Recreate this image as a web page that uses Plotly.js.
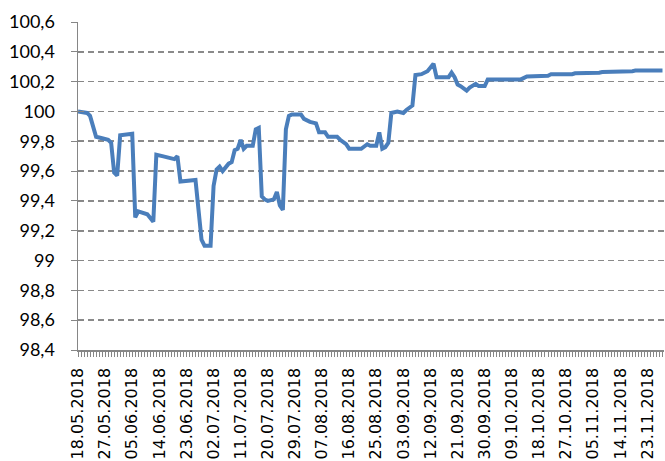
<!DOCTYPE html>
<html>
<head>
<meta charset="utf-8">
<script src="https://cdn.plot.ly/plotly-3.0.1.min.js"></script>
<style>html,body{margin:0;padding:0;background:#fff}#chart{width:665px;height:461px}</style>
</head>
<body>
<div id="chart"></div>
<script>
var dates = [
 '2018-05-18','2018-05-21','2018-05-22','2018-05-24','2018-05-26','2018-05-28','2018-05-29','2018-05-30','2018-05-31',
 '2018-06-01','2018-06-05','2018-06-06','2018-06-07','2018-06-09','2018-06-10','2018-06-12','2018-06-13','2018-06-15',
 '2018-06-18','2018-06-19','2018-06-20','2018-06-21','2018-06-26','2018-06-28','2018-06-29',
 '2018-07-01','2018-07-02','2018-07-03','2018-07-04','2018-07-05','2018-07-07','2018-07-08','2018-07-09','2018-07-10',
 '2018-07-11','2018-07-12','2018-07-13','2018-07-15','2018-07-16','2018-07-17','2018-07-18','2018-07-19','2018-07-20',
 '2018-07-22','2018-07-23','2018-07-24','2018-07-25','2018-07-26','2018-07-27','2018-07-28','2018-07-31',
 '2018-08-01','2018-08-03','2018-08-05','2018-08-06','2018-08-08','2018-08-09','2018-08-12','2018-08-13','2018-08-15',
 '2018-08-16','2018-08-20','2018-08-22','2018-08-23','2018-08-25','2018-08-26','2018-08-27','2018-08-28','2018-08-29','2018-08-30',
 '2018-09-01','2018-09-03','2018-09-04','2018-09-06','2018-09-07','2018-09-09','2018-09-11','2018-09-12','2018-09-13',
 '2018-09-14','2018-09-18','2018-09-19','2018-09-20','2018-09-21','2018-09-22','2018-09-24','2018-09-25','2018-09-27',
 '2018-09-28','2018-09-30','2018-10-01','2018-10-12','2018-10-14','2018-10-21','2018-10-22','2018-10-29','2018-10-30',
 '2018-11-07','2018-11-08','2018-11-18','2018-11-19','2018-11-28'
];
var prices = [
 100.00,99.99,99.97,99.83,99.82,99.81,99.79,99.59,99.57,
 99.84,99.85,99.29,99.33,99.32,99.31,99.26,99.71,99.70,
 99.69,99.68,99.70,99.53,99.54,99.14,99.10,
 99.10,99.50,99.61,99.63,99.60,99.65,99.66,99.74,99.75,
 99.81,99.75,99.77,99.77,99.88,99.89,99.43,99.41,99.40,
 99.41,99.46,99.37,99.34,99.88,99.97,99.98,99.98,
 99.95,99.93,99.92,99.86,99.86,99.83,99.83,99.81,99.78,
 99.75,99.75,99.78,99.77,99.77,99.86,99.75,99.76,99.79,99.99,
 100.00,99.99,100.01,100.04,100.245,100.25,100.27,100.30,100.32,
 100.23,100.23,100.26,100.23,100.18,100.17,100.14,100.16,100.185,
 100.17,100.17,100.215,100.215,100.235,100.24,100.25,100.25,100.256,
 100.26,100.265,100.27,100.274,100.274
];
var tickDates = ['2018-05-18','2018-05-27','2018-06-05','2018-06-14','2018-06-23','2018-07-02','2018-07-11','2018-07-20',
 '2018-07-29','2018-08-07','2018-08-16','2018-08-25','2018-09-03','2018-09-12','2018-09-21','2018-09-30','2018-10-09',
 '2018-10-18','2018-10-27','2018-11-05','2018-11-14','2018-11-23'];
var tickLabels = ['18.05.2018','27.05.2018','05.06.2018','14.06.2018','23.06.2018','02.07.2018','11.07.2018','20.07.2018',
 '29.07.2018','07.08.2018','16.08.2018','25.08.2018','03.09.2018','12.09.2018','21.09.2018','30.09.2018','09.10.2018',
 '18.10.2018','27.10.2018','05.11.2018','14.11.2018','23.11.2018'];
var yTickVals = [98.4,98.6,98.8,99,99.2,99.4,99.6,99.8,100,100.2,100.4,100.6];
var yTickText = ['98,4','98,6','98,8','99','99,2','99,4','99,6','99,8','100','100,2','100,4','100,6'];

var traces = [
 {x: dates, y: prices, type:'scatter', mode:'lines', line:{color:'#4a7ebb', width:4}, hoverinfo:'skip'},
 {x: [dates[0]], y: [prices[0]], yaxis:'y2', type:'scatter', mode:'lines', line:{color:'rgba(0,0,0,0)'}, hoverinfo:'skip', showlegend:false}
];
var layout = {
 width:665, height:461,
 margin:{l:78, r:1, t:22, b:111},
 paper_bgcolor:'#fff', plot_bgcolor:'#fff',
 showlegend:false,
 xaxis:{
  type:'date', range:['2018-05-18','2018-11-28 12:00'],
  tickmode:'array', tickvals:tickDates, ticktext:tickLabels,
  tickangle:-90, tickfont:{family:'DejaVu Sans', size:16, color:'#000'},
  ticks:'outside', ticklen:5, tickcolor:'#868686', tickwidth:1,
  minor:{ticks:'outside', dtick:86400000, tick0:'2018-05-18', ticklen:5, tickcolor:'#868686', tickwidth:1, showgrid:false},
  showline:true, linecolor:'#868686', linewidth:1.5,
  showgrid:false, zeroline:false, ticklabelstandoff:5
 },
 yaxis:{
  range:[98.4,100.6], tickmode:'array', tickvals:yTickVals, ticktext:yTickText,
  tickfont:{family:'Lato', size:18, color:'#000'},
  ticks:'outside', ticklen:6, tickcolor:'#868686', tickwidth:1,
  showline:true, linecolor:'#868686', linewidth:1.5,
  showgrid:true, gridcolor:'#8a8a8a', gridwidth:1.6, griddash:'6px,4px',
  zeroline:false, ticklabelstandoff:12
 },
 yaxis2:{
  overlaying:'y', side:'left', range:[98.4,100.6], tickmode:'array', tickvals:yTickVals,
  showticklabels:false, ticks:'inside', ticklen:6, tickcolor:'#868686', tickwidth:1,
  showgrid:false, zeroline:false, showline:false
 }
};
Plotly.newPlot('chart', traces, layout, {staticPlot:true, displayModeBar:false});
</script>
</body>
</html>
